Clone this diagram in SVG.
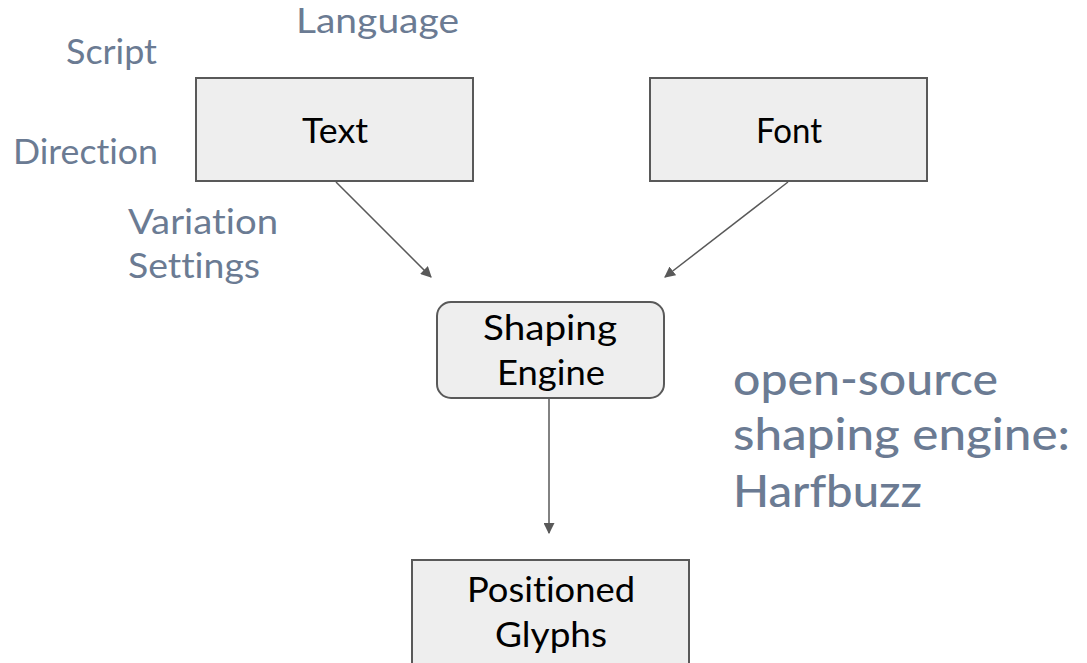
<svg xmlns="http://www.w3.org/2000/svg" width="1087" height="663" viewBox="0 0 1087 663">
  <defs>
    <style>
      .box { fill: #eeeeee; stroke: #595959; stroke-width: 2; }
      text { font-family: Lato, "Noto Sans", sans-serif; font-variant-ligatures: none; }
      .node-label { font-size: 35px; fill: #000000; text-anchor: middle; }
      .param { font-size: 34px; fill: #6b7b93; }
      .note { font-size: 45px; font-weight: 500; fill: #6b7b93; }
      .edge { stroke: #595959; stroke-width: 1.5; fill: none; marker-end: url(#arrow); }
    </style>
    <marker id="arrow" viewBox="0 0 10 10" refX="9" refY="5" markerWidth="11" markerHeight="11" markerUnits="userSpaceOnUse" orient="auto">
      <path d="M0,0 L10,5 L0,10 Z" fill="#595959"/>
    </marker>
  </defs>
  <rect width="1087" height="663" fill="#ffffff"/>

  <!-- Text input parameters -->
  <g id="params">
    <text class="param" x="296" y="33" textLength="163" lengthAdjust="spacingAndGlyphs">Language</text>
    <text class="param" x="66" y="64" textLength="91" lengthAdjust="spacingAndGlyphs">Script</text>
    <text class="param" x="13" y="164" textLength="145" lengthAdjust="spacingAndGlyphs">Direction</text>
    <text class="param" x="128" y="234" textLength="150" lengthAdjust="spacingAndGlyphs">Variation</text>
    <text class="param" x="128" y="278" textLength="132" lengthAdjust="spacingAndGlyphs">Settings</text>
  </g>

  <g id="connectors">
    <line class="edge" x1="336" y1="182" x2="431" y2="277"/>
    <line class="edge" x1="788" y1="182" x2="665" y2="277"/>
    <line class="edge" x1="549" y1="399" x2="549" y2="533"/>
  </g>

  <g id="text-node">
    <rect class="box" x="196" y="78" width="277" height="103"/>
    <text class="node-label" x="335" y="143" textLength="66" lengthAdjust="spacingAndGlyphs">Text</text>
  </g>

  <g id="font-node">
    <rect class="box" x="650" y="78" width="277" height="103"/>
    <text class="node-label" x="789" y="143" textLength="66" lengthAdjust="spacingAndGlyphs">Font</text>
  </g>

  <g id="shaping-engine">
    <rect class="box" x="437" y="302" width="227" height="96" rx="14"/>
    <text class="node-label" x="550" y="340" textLength="134" lengthAdjust="spacingAndGlyphs">Shaping</text>
    <text class="node-label" x="551" y="385" textLength="108" lengthAdjust="spacingAndGlyphs">Engine</text>
  </g>

  <g id="positioned-glyphs">
    <rect class="box" x="412" y="560" width="277" height="120"/>
    <text class="node-label" x="551" y="602" textLength="168" lengthAdjust="spacingAndGlyphs">Positioned</text>
    <text class="node-label" x="551" y="647" textLength="112" lengthAdjust="spacingAndGlyphs">Glyphs</text>
  </g>

  <g id="note">
    <text class="note" x="733" y="395" textLength="265" lengthAdjust="spacingAndGlyphs">open-source</text>
    <text class="note" x="733" y="450" textLength="337" lengthAdjust="spacingAndGlyphs">shaping engine:</text>
    <text class="note" x="733" y="507" textLength="189" lengthAdjust="spacingAndGlyphs">Harfbuzz</text>
  </g>
</svg>
